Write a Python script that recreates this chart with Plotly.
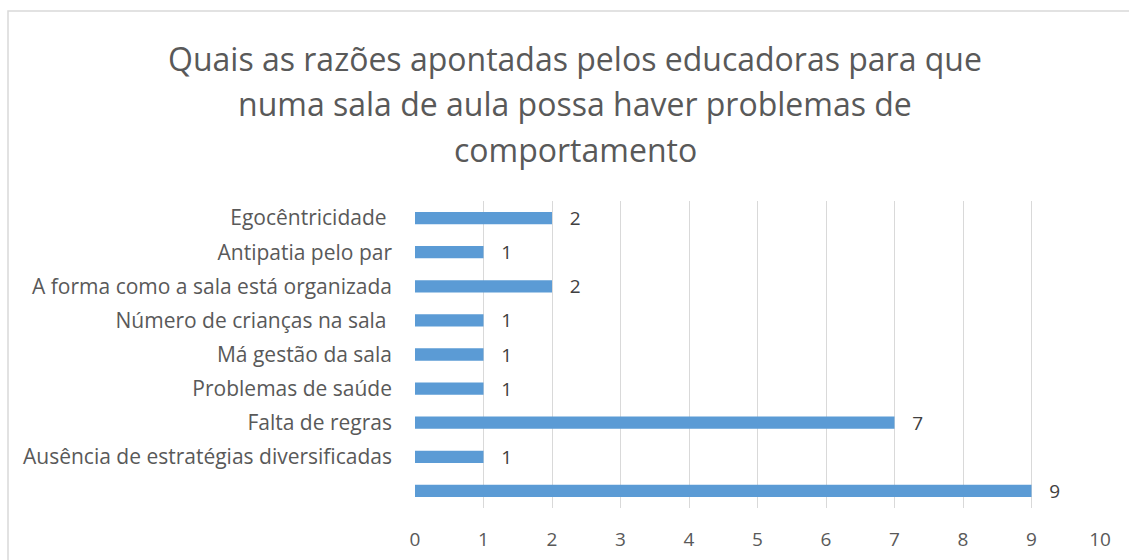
import plotly.graph_objects as go

categories = [" ", "Ausência de estratégias diversificadas", "Falta de regras", "Problemas de saúde",
              "Má gestão da sala", "Número de crianças na sala ", "A forma como a sala está organizada",
              "Antipatia pelo par", "Egocêntricidade "]
values = [9, 1, 7, 1, 1, 1, 2, 1, 2]
x_ticks = list(range(0, 11))
title_lines = ["Quais as razões apontadas pelos educadoras para que",
               "numa sala de aula possa haver problemas de",
               "comportamento"]

FONT = "Open Sans"
GREY = "#595959"

W, H = 1129, 560
L, R, T, B = 415, 29, 201, 52
pw = W - L - R
ph = H - T - B

fig = go.Figure(go.Bar(
    y=categories, x=values, orientation="h",
    marker=dict(color="#5b9bd5", line=dict(width=0)),
    width=0.36,
    text=["   " + str(v) for v in values], textposition="outside",
    constraintext="none",
    textfont=dict(family=FONT, size=19, color="#404040"),
    cliponaxis=False,
))

def py(pix_y):
    return (H - B - pix_y) / ph

def px(pix_x):
    return (pix_x - L) / pw

annotations = []
for line, yc in zip(title_lines, [58, 103, 150]):
    annotations.append(dict(text=line, xref="paper", yref="paper",
                            x=px(575), y=py(yc),
                            xanchor="center", yanchor="middle", showarrow=False,
                            font=dict(family=FONT, size=32, color=GREY)))

fig.update_layout(
    width=W, height=H,
    margin=dict(l=L, r=R, t=T, b=B, autoexpand=False),
    paper_bgcolor="white", plot_bgcolor="white",
    showlegend=False,
    xaxis=dict(range=[0, 10], tickvals=x_ticks, showgrid=True, gridcolor="#d9d9d9", gridwidth=1,
               zeroline=False, showline=False, ticks="", automargin=False,
               tickfont=dict(family=FONT, size=19, color=GREY), ticklabelstandoff=18),
    yaxis=dict(categoryorder="array", categoryarray=categories, showgrid=False, zeroline=False,
               showline=False, ticks="", ticklabelstandoff=22, automargin=False,
               tickfont=dict(family=FONT, size=21, color=GREY)),
    shapes=[dict(type="rect", xref="paper", yref="paper",
                 x0=px(8), x1=1.2, y0=-0.5, y1=py(11),
                 line=dict(color="#d9d9d9", width=1.5), fillcolor="rgba(0,0,0,0)", layer="below")],
    annotations=annotations,
)

fig.write_html("out.html", config={"displayModeBar": False},
               post_script="document.body.style.margin='0';document.body.style.overflow='hidden';")
